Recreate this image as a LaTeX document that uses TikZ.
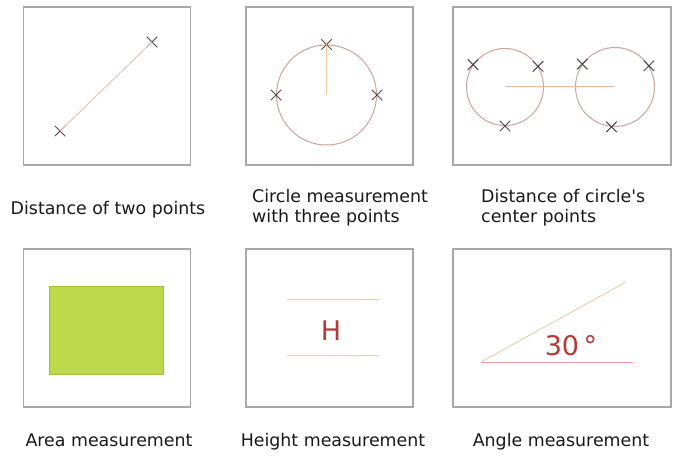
\documentclass[tikz,border=0pt]{standalone}
\usepackage{fontspec}
\setmainfont{DejaVu Sans}
\usepackage{tikz}
\usetikzlibrary{shapes.misc,positioning}

\definecolor{framegray}{HTML}{A8A8A8}
\definecolor{markgray}{HTML}{4A4A4A}
\definecolor{pinkline}{HTML}{E2C2C2}
\definecolor{ringline}{HTML}{C9A3A3}
\definecolor{orangeline}{HTML}{EAC896}
\definecolor{beigeline}{HTML}{E3D4B4}
\definecolor{leafgreen}{HTML}{BED84B}
\definecolor{leafedge}{HTML}{A3BC3C}
\definecolor{marktext}{HTML}{B23A3A}

\begin{document}
\begin{tikzpicture}[
    x=1pt, y=-1pt,
    panel/.style={draw=framegray, line width=1.3pt, minimum width=167pt, minimum height=158pt, inner sep=0pt},
    widepanel/.style={panel, minimum width=218pt},
    xmark/.style={draw=markgray, cross out, line width=1pt, minimum size=9.5pt, inner sep=0pt},
    ring/.style={draw=ringline, circle, line width=1pt, inner sep=0pt},
    guide/.style={line width=1pt},
    caption/.style={font=\fontsize{17.4}{20}\selectfont, text=black!90, inner sep=0pt},
    bigtext/.style={font=\fontsize{27}{27}\selectfont, text=marktext, inner sep=0pt}
]
\useasboundingbox (0,0) rectangle (678,460);

\node[panel] (f1) at (107,86) {};
\node[panel] (f2) at (329.5,86) {};
\node[widepanel] (f3) at (562,86) {};
\node[panel] (f4) at (107,328) {};
\node[panel] (f5) at (329.5,328) {};
\node[widepanel] (f6) at (562,328) {};

\node[xmark] (a1) at (152,42) {};
\node[xmark] (a2) at (60,131) {};
\draw[guide, pinkline] (a2.center) -- (a1.center);

\node[ring, minimum size=100pt] (c) at (326.5,95) {};
\node[xmark] (c1) at (c.north) {};
\node[xmark] (c2) at (c.west) {};
\node[xmark] (c3) at (c.east) {};
\draw[guide, orangeline] (c.center) -- (c1.center);

\node[ring, minimum size=77pt] (l) at (505,87) {};
\node[ring, minimum size=79pt] (r) at (615,87) {};
\foreach \p/\a in {l/145, l/32, l/270, r/145, r/32, r/265}
    \node[xmark] at (\p.\a) {};
\draw[guide, pinkline!85!orange] (l.center) -- (r.center);

\node[draw=leafedge, fill=leafgreen, line width=0.8pt, minimum width=114pt, minimum height=88pt, inner sep=0pt] (area) at (106,330) {};

\node[bigtext] (h) at (331,331) {H};
\coordinate (t1) at (287,299);
\coordinate (t2) at (379,299);
\coordinate (b1) at (287,355);
\coordinate (b2) at (379,355);
\draw[guide, beigeline] (t1) -- (t2);
\draw[guide, beigeline] (b1) -- (b2);

\coordinate (o) at (481,362);
\coordinate (e) at (633,362);
\coordinate (s) at (626,282);
\draw[guide, pinkline!80!red] (o) -- (e);
\draw[guide, beigeline] (o) -- (s);
\node[bigtext, anchor=base] (deg) at (571,355) {30\,\textdegree};

\node[caption, anchor=base] at (108,214) {Distance of two points};
\node[caption, anchor=north west, align=left] at (252,189) {Circle measurement\\with three points};
\node[caption, anchor=north west, align=left] at (481,189) {Distance of circle\textquotesingle s\\center points};
\node[caption, anchor=base] at (109,446) {Area measurement};
\node[caption, anchor=base] at (333,446) {Height measurement};
\node[caption, anchor=base] at (561,446) {Angle measurement};
\end{tikzpicture}
\end{document}
